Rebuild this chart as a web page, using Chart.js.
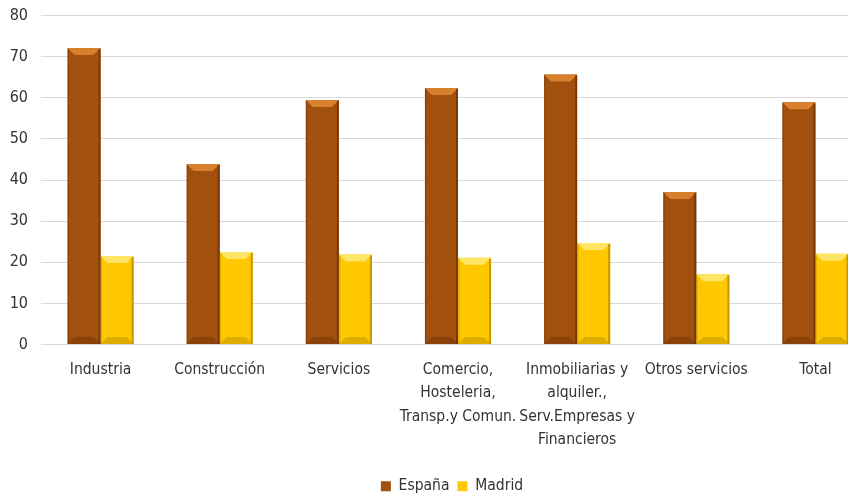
<!DOCTYPE html>
<html>
<head>
<meta charset="utf-8">
<script src="https://cdn.jsdelivr.net/npm/chart.js@4.4.0/dist/chart.umd.min.js"></script>
<style>
  html, body { margin: 0; padding: 0; background: #fff; overflow: hidden; }
  #wrap { width: 848px; height: 496px; overflow: hidden; }
  canvas { display: block; margin-top: -7px; }
</style>
</head>
<body>
<div id="wrap"><canvas id="chart" width="904" height="503"></canvas></div>
<script>
// chart data
const categories = [
  'Industria',
  'Construcción',
  'Servicios',
  ['Comercio,', 'Hosteleria,', 'Transp.y Comun.'],
  ['Inmobiliarias y', 'alquiler.,', 'Serv.Empresas y', 'Financieros'],
  'Otros servicios',
  'Total'
];
const espana = [72.1, 43.9, 59.5, 62.4, 65.7, 37.1, 58.9];
const madrid = [21.5, 22.5, 21.9, 21.1, 24.7, 17.1, 22.1];
const yTicks = [0, 10, 20, 30, 40, 50, 60, 70, 80];

const FONT = "'Liberation Sans Narrow', 'DejaVu Sans Condensed', 'Roboto', sans-serif";

// bevel look on each bar, drawn on top of the library's bars
const bevel = {
  id: 'bevel',
  afterDatasetsDraw(chart) {
    const ctx = chart.ctx;
    const shades = [
      { top: '#d9802f', edge: '#6e3306', bottom: '#7a3a08' },
      { top: '#ffe566', edge: '#b88c00', bottom: '#c99a00' }
    ];
    chart.data.datasets.forEach((ds, di) => {
      const meta = chart.getDatasetMeta(di);
      const s = shades[di];
      meta.data.forEach(bar => {
        const { x, y, width, base } = bar.getProps(['x', 'y', 'width', 'base'], true);
        const l = x - width / 2, r = x + width / 2, b = 7;
        ctx.save();
        // top bevel
        ctx.fillStyle = s.top;
        ctx.beginPath();
        ctx.moveTo(l, y); ctx.lineTo(r, y); ctx.lineTo(r - b, y + b); ctx.lineTo(l + b, y + b);
        ctx.closePath(); ctx.fill();
        // bottom bevel
        ctx.globalAlpha = 0.6;
        ctx.fillStyle = s.bottom;
        ctx.beginPath();
        ctx.moveTo(l, base); ctx.lineTo(r, base); ctx.lineTo(r - b, base - b); ctx.lineTo(l + b, base - b);
        ctx.closePath(); ctx.fill();
        // edges
        ctx.globalAlpha = 0.8;
        ctx.fillStyle = s.edge;
        ctx.fillRect(r - 2, y + 1, 2, base - y - 1);
        ctx.globalAlpha = 0.4;
        ctx.fillRect(l, y + 1, 1.5, base - y - 1);
        ctx.restore();
      });
    });
  }
};

new Chart(document.getElementById('chart'), {
  type: 'bar',
  data: {
    labels: categories,
    datasets: [
      { label: 'España', data: espana, backgroundColor: '#a1500e' },
      { label: 'Madrid', data: madrid, backgroundColor: '#ffc800' }
    ]
  },
  options: {
    responsive: false,
    animation: false,
    layout: { padding: { top: 0, right: 29, left: 29, bottom: -8 } },
    datasets: { bar: { categoryPercentage: 0.555, barPercentage: 1.0 } },
    scales: {
      x: {
        grid: { display: false },
        border: { display: false },
        afterFit: axis => { axis.height += 13; },
        ticks: {
          color: '#333', maxRotation: 0, autoSkip: false, padding: 6,
          font: { family: FONT, size: 15.5, lineHeight: 1.5 }
        }
      },
      y: {
        min: 0, max: 80,
        afterBuildTicks: axis => { axis.ticks = yTicks.map(v => ({ value: v })); },
        // narrow axis box so the plot starts where the reference does; labels may overhang
        afterFit: axis => { axis.width = 12; axis._computeLabelArea = () => undefined; },
        grid: { color: '#d9d9d9', lineWidth: 1, drawTicks: false },
        border: { display: false },
        ticks: {
          color: '#333', padding: 13,
          font: { family: FONT, size: 16 }
        }
      }
    },
    plugins: {
      legend: {
        position: 'bottom',
        labels: {
          color: '#333', boxWidth: 10, boxHeight: 10, padding: 8,
          font: { family: FONT, size: 15.5 }
        }
      },
      tooltip: { enabled: false }
    }
  },
  plugins: [bevel]
});
</script>
</body>
</html>
